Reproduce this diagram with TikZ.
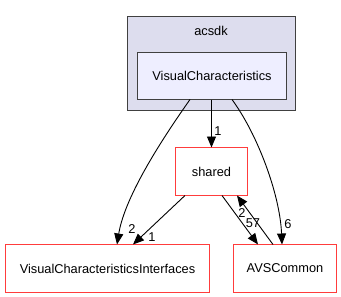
\documentclass[tikz,border=0pt]{standalone}
\usepackage{fontspec}
\setmainfont{Liberation Sans}
\usetikzlibrary{arrows.meta,calc}
\definecolor{clusterfill}{HTML}{DDDDEE}
\definecolor{dirfill}{HTML}{EEEEFF}
\definecolor{dirborder}{HTML}{404040}
\definecolor{extborder}{RGB}{255,60,60}
\tikzset{
  lbl/.style={font=\fontsize{12.8}{14}\selectfont, inner sep=0pt},
  dirbox/.style={font=\fontsize{12.8}{14}\selectfont, rectangle, inner sep=0pt, outer sep=0pt},
  extdir/.style={dirbox, fill=white},
  extframe/.style={draw=extborder, line width=1.5pt},
  dep/.style={draw=black, line width=0.9pt, -{Triangle[length=11pt,width=9pt]}},
}
\begin{document}
\begin{tikzpicture}[x=1pt,y=-1pt]
  \useasboundingbox (0,0) rectangle (341,297);
  % enclosing package
  \node[dirbox, draw=dirborder, line width=1.1pt, fill=clusterfill,
        minimum width=168pt, minimum height=94pt] (pkg) at (211.5,63.5) {};
  \node[lbl] (acsdk) at (211,31) {acsdk};
  % directory nodes
  \node[dirbox, draw=dirborder, line width=1.5pt, fill=dirfill,
        minimum width=149pt, minimum height=47pt] (vc) at (212,76) {VisualCharacteristics};
  \node[extdir, minimum width=72pt, minimum height=48pt] (sharedDir) at (211.5,171.5) {shared};
  \node[extdir, minimum width=204pt, minimum height=48pt] (vci) at (107.5,268.5) {VisualCharacteristicsInterfaces};
  \node[extdir, minimum width=103pt, minimum height=48pt] (avs) at (285,268.5) {AVSCommon};
  % red frames of the external directories
  \foreach \n in {sharedDir, vci, avs}
    \draw[extframe] (\n.south west) rectangle (\n.north east);
  % dependencies
  \draw[dep] (vc.south -| sharedDir.north) -- (sharedDir.north);
  \node[lbl] at (218,131) {1};
  \draw[dep] ($(vc.south)+(-22,0)$) .. controls (165,135) and (125,195) .. ($(vci.north)+(9.5,0)$);
  \node[lbl] at (132,229) {2};
  \draw[dep] ($(vc.south)+(20,0)$) .. controls (258,135) and (280,195) .. ($(avs.north)+(-3,0)$);
  \node[lbl] at (288,224) {6};
  \draw[dep] ($(sharedDir.south)+(-26.5,0)$) -- ($(vci.north)+(25.5,0)$);
  \node[lbl] at (152,237) {1};
  \draw[dep] ($(sharedDir.south)+(10.5,0)$) -- ($(avs.north)+(-27,0)$);
  \node[lbl] at (253,223) {57};
  \draw[dep] ($(avs.north)+(-12,0)$) -- ($(sharedDir.south)+(25.5,0)$);
  \node[lbl] at (242,213) {2};
\end{tikzpicture}
\end{document}
